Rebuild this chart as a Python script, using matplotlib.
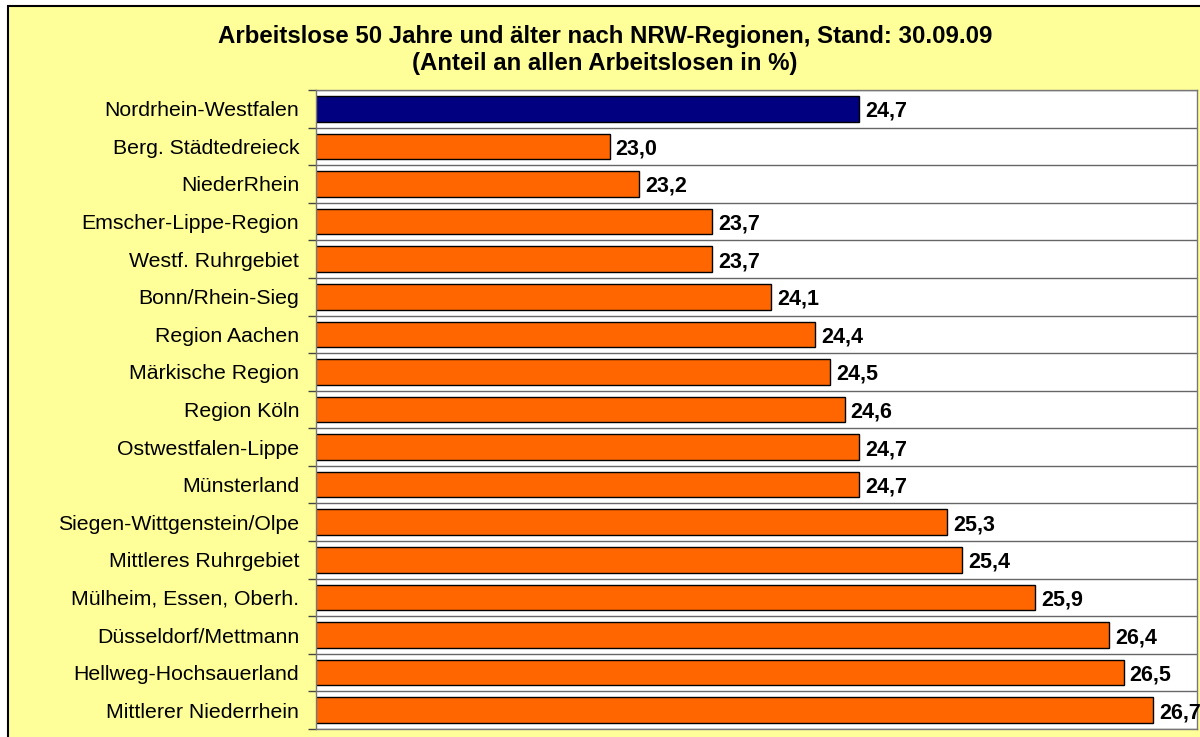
import matplotlib.pyplot as plt
import numpy as np
from matplotlib.patches import Rectangle

# data
regions = ['Nordrhein-Westfalen', 'Berg. Städtedreieck', 'NiederRhein',
           'Emscher-Lippe-Region', 'Westf. Ruhrgebiet', 'Bonn/Rhein-Sieg',
           'Region Aachen', 'Märkische Region', 'Region Köln',
           'Ostwestfalen-Lippe', 'Münsterland', 'Siegen-Wittgenstein/Olpe',
           'Mittleres Ruhrgebiet', 'Mülheim, Essen, Oberh.',
           'Düsseldorf/Mettmann', 'Hellweg-Hochsauerland',
           'Mittlerer Niederrhein']
values = [24.7, 23.0, 23.2, 23.7, 23.7, 24.1, 24.4, 24.5, 24.6,
          24.7, 24.7, 25.3, 25.4, 25.9, 26.4, 26.5, 26.7]
title = 'Arbeitslose 50 Jahre und älter nach NRW-Regionen, Stand: 30.09.09\n(Anteil an allen Arbeitslosen in %)'

plt.rcParams['font.family'] = ['Liberation Sans', 'DejaVu Sans']

fig = plt.figure(figsize=(12, 7.37), dpi=100, facecolor='white')
# yellow chart area with black border
fig.patches.append(Rectangle((8 / 1200, -0.1), 1.2, 1 - 6 / 737 + 0.1,
                             transform=fig.transFigure, facecolor='#FFFF99',
                             edgecolor='black', linewidth=1.5, zorder=-10))

ax = fig.add_axes([316 / 1200, 8 / 737, 881 / 1200, 639 / 737])
ax.set_zorder(1)
ax.set_facecolor('white')

y = np.arange(len(regions))
colors = ['#000080'] + ['#FF6600'] * (len(regions) - 1)
ax.barh(y, values, height=0.68, left=0, color=colors, edgecolor='black',
        linewidth=1, zorder=2)

ax.set_xlim(21, 27)
ax.set_ylim(len(regions) - 0.5, -0.5)

for yi, v in zip(y, values):
    ax.text(v + 0.04, yi, f'{v:.1f}'.replace('.', ','), va='center_baseline',
            ha='left', fontsize=15.5, fontweight='bold', color='black', zorder=3)

ax.set_yticks(y)
ax.set_yticklabels(regions, fontsize=15.3)
ax.tick_params(axis='y', which='major', length=0, pad=12)
ax.set_yticks(np.arange(len(regions) + 1) - 0.5, minor=True)
ax.tick_params(axis='y', which='minor', length=6, width=1, color='#444444',
               direction='out', left=True)
ax.set_xticks([])
ax.grid(axis='y', which='minor', color='#666666', linewidth=1, zorder=1)

for s in ax.spines.values():
    s.set_color('#777777')
    s.set_linewidth(1)

fig.text(605 / 1200, 1 - 50 / 737, title, ha='center', va='center',
         fontsize=17.3, fontweight='bold', linespacing=1.2)

fig.savefig('out.png', dpi=100, facecolor=fig.get_facecolor())
